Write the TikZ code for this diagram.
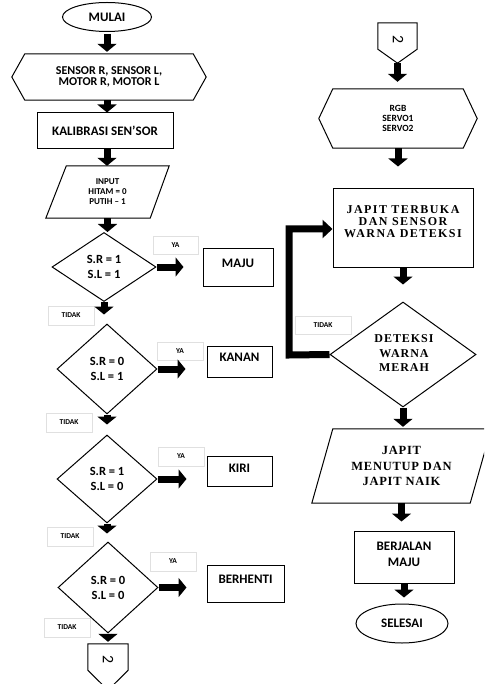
\documentclass[tikz,border=0pt]{standalone}
\usepackage{fontspec}
\setmainfont{Carlito}
\newfontfamily\tnr[LetterSpace=12]{Liberation Serif}
\newfontfamily\tnrd[LetterSpace=8]{Liberation Serif}
\newfontfamily\tnrb[LetterSpace=6]{Liberation Serif}
\usetikzlibrary{arrows.meta,shapes.geometric,shadows}
\tikzset{
  box/.style={draw, line width=1pt, rectangle, inner sep=0pt},
  ell/.style={draw, line width=1pt, ellipse, inner sep=0pt},
  dia/.style={draw, line width=1pt, diamond, inner sep=0pt, align=center, font=\fontsize{12.5}{15}\selectfont\bfseries},
  txt/.style={align=center, inner sep=0pt},
  f13/.style={font=\fontsize{13}{16}\selectfont\bfseries, align=center, inner sep=0pt},
  tag/.style={rectangle, fill=white, draw=black!12, line width=0.6pt, inner sep=0pt,
    font=\fontsize{7.5}{9}\selectfont\bfseries,
    drop shadow={shadow xshift=1pt, shadow yshift=-1.2pt, opacity=0.25, fill=black}},
  blk/.style={line width=7pt, -{Triangle[length=8pt,width=19pt]}},
  blkr/.style={line width=7pt, line join=miter, -{Triangle[length=10pt,width=18pt]}},
  outl/.style={draw, line width=1pt, line join=miter},
  two/.style={font=\fontsize{16}{16}\selectfont, rotate=-90, inner sep=0pt},
}
\begin{document}
\begin{tikzpicture}[x=1pt,y=-1pt]
\useasboundingbox (0,0) rectangle (484,684);
\fill[white] (0,0) rectangle (484,684);
\clip (0,0) rectangle (484,684);

% ---------- left column ----------
\node[ell, minimum width=89pt, minimum height=29pt, f13] (mulai) at (107,17) {MULAI};

\node[txt, minimum width=194pt, minimum height=46pt, font=\fontsize{12}{11.5}\selectfont\bfseries] (sensor) at (109,77) {SENSOR R, SENSOR L,\\MOTOR R, MOTOR L};
\draw[outl] (sensor.west) -- ([xshift=13pt]sensor.north west) -- ([xshift=-13pt]sensor.north east) -- (sensor.east) -- ([xshift=-13pt]sensor.south east) -- ([xshift=13pt]sensor.south west) -- cycle;

\node[box, minimum width=136pt, minimum height=36pt, f13] (kal) at (105,131) {KALIBRASI SEN'SOR};

\node[txt, minimum width=103pt, minimum height=52pt, font=\fontsize{9}{10}\selectfont\bfseries] (input) at (107.5,192) {INPUT\\HITAM = 0\\PUTIH -- 1};
\draw[outl] ([xshift=10.5pt]input.north west) -- ([xshift=10pt]input.north east) -- ([xshift=-9pt]input.south east) -- ([xshift=-10pt]input.south west) -- cycle;

\node[dia, minimum width=104pt, minimum height=69pt] (d1) at (104,267) {S.R = 1\\S.L = 1};
\node[dia, minimum width=100pt, minimum height=90pt] (d2) at (107,369) {S.R = 0\\S.L = 1};
\node[dia, minimum width=100pt, minimum height=88pt] (d3) at (107,479) {S.R = 1\\S.L = 0};
\node[dia, minimum width=100pt, minimum height=91pt] (d4) at (108,587.5) {S.R = 0\\S.L = 0};

\node[tag, minimum width=45pt, minimum height=18pt] (ya1) at (175.5,245) {YA};
\node[tag, minimum width=46pt, minimum height=18pt] (ya2) at (180,351) {YA};
\node[tag, minimum width=46pt, minimum height=19pt] (ya3) at (181,456.5) {YA};
\node[tag, minimum width=46pt, minimum height=19pt] (ya4) at (173,561.5) {YA};

\node[tag, minimum width=46pt, minimum height=19pt] (t1) at (71,315.5) {TIDAK};
\node[tag, minimum width=46pt, minimum height=19pt] (t2) at (69,422.5) {TIDAK};
\node[tag, minimum width=46pt, minimum height=19pt] (t3) at (70,536.5) {TIDAK};
\node[tag, minimum width=46pt, minimum height=19pt] (t4) at (67,627.5) {TIDAK};

\node[box, minimum width=70pt, minimum height=37pt] (maju) at (238,267.5) {};
\node[f13] (majut) at (238,263.5) {MAJU};
\node[box, minimum width=65pt, minimum height=31pt] (kanan) at (239.5,361.5) {};
\node[f13] (kanant) at (239.5,357.5) {KANAN};
\node[box, minimum width=65pt, minimum height=30pt] (kiri) at (239.5,471) {};
\node[f13] (kirit) at (239.5,468.5) {KIRI};
\node[box, minimum width=77pt, minimum height=37pt] (berhenti) at (245.5,583.5) {};
\node[f13] (berhentit) at (245.5,579.5) {BERHENTI};

\node[txt, minimum width=40pt, minimum height=26pt] (c1) at (108,657) {};
\draw[outl] (c1.north west) -- (c1.north east) -- (c1.south east) -- ([yshift=-20pt]c1.south) -- (c1.south west) -- cycle;
\node[two] (c1t) at (108,660) {2};

% left arrows
\draw[blk, shorten <=2pt, shorten >=2pt] (mulai.south) -- (mulai.south |- sensor.north);
\draw[blk] (sensor.south -| mulai) -- (kal.north -| mulai);
\draw[blk] (kal.south -| mulai) -- (input.north -| mulai);
\draw[blk] (input.south) -- (input.south |- d1.north);
\draw[blk, shorten >=9pt] (d1.south) -- (d1.south |- d2.north);
\draw[blk, shorten >=10pt] (d2.south) -- (d2.south |- d3.north);
\draw[blk, shorten >=8pt] (d3.south) -- (d3.south |- d4.north);
\draw[blk, shorten >=2pt] (d4.south) -- (d4.south |- c1.north);

\draw[blk, shorten >=19pt] (d1.east) -- (d1.east -| maju.west);
\draw[blk, shorten >=21pt] (d2.east) -- (d2.east -| kanan.west);
\draw[blk, shorten >=20pt] (d3.east) -- (d3.east -| kiri.west);
\draw[blk, shorten >=20pt] (d4.east) -- (d4.east -| berhenti.west);

% ---------- right column ----------
\node[txt, minimum width=39pt, minimum height=26pt] (c2) at (397.5,36) {};
\draw[outl] (c2.north west) -- (c2.north east) -- (c2.south east) -- ([yshift=-14pt]c2.south) -- (c2.south west) -- cycle;
\node[two] (c2t) at (398,40) {2};
\coordinate (c2tip) at ([yshift=-14pt]c2.south);

\node[txt, minimum width=158pt, minimum height=59pt, font=\fontsize{9.5}{9.7}\selectfont\bfseries] (rgb) at (398,118.5) {RGB\\SERVO1\\SERVO2};
\draw[outl] (rgb.west) -- ([xshift=14pt]rgb.north west) -- ([xshift=-14pt]rgb.north east) -- (rgb.east) -- ([xshift=-14pt]rgb.south east) -- ([xshift=14pt]rgb.south west) -- cycle;

\node[box, minimum width=140pt, minimum height=78pt] (j1) at (403,228) {};
\node[txt, font=\tnr\bfseries\fontsize{12}{11.8}\selectfont] (j1t) at (403,221.5) {JAPIT TERBUKA\\DAN SENSOR\\WARNA DETEKSI};

\node[draw, diamond, line width=1pt, minimum width=146pt, minimum height=105pt, inner sep=0pt] (det) at (403,354.5) {};
\node[txt, font=\tnrd\bfseries\fontsize{12}{14.5}\selectfont] (dett) at (404,353.5) {DETEKSI\\WARNA\\MERAH};
\node[tag, minimum width=56pt, minimum height=18pt] (t5) at (323,325) {TIDAK};

\node[txt, minimum width=179pt, minimum height=74pt, font=\tnrb\bfseries\fontsize{12.5}{15.5}\selectfont] (j2) at (401.5,466) {JAPIT\\MENUTUP DAN\\JAPIT NAIK};
\draw[outl] ([xshift=21pt]j2.north west) -- (j2.north east) -- ([xshift=-21pt]j2.south east) -- (j2.south west) -- cycle;

\node[box, minimum width=100pt, minimum height=52pt] (bj) at (404,557) {};
\node[f13] (bjt) at (404,554) {BERJALAN\\MAJU};

\node[ell, minimum width=92pt, minimum height=39pt, f13] (selesai) at (402,623.5) {SELESAI};

% right arrows
\draw[blk, shorten >=7pt] (c2tip) -- (c2tip |- rgb.north);
\draw[blk, shorten >=22pt] (rgb.south) -- (rgb.south |- j1.north);
\draw[blk, shorten >=17pt] (j1.south) -- (j1.south |- det.north);
\draw[blk, shorten >=2pt] (det.south) -- (det.south |- j2.north);
\draw[blk, shorten >=9pt] (j2.south) -- (j2.south |- bj.north);
\draw[blk, shorten >=6pt] (bj.south) -- (bj.south |- selesai.north);

\coordinate (lpA) at (289,355);
\coordinate (lpB) at (289,229);
\draw[blkr] (det.west) -- (lpA) -- (lpB) -- (j1.west |- lpB);
\end{tikzpicture}
\end{document}
